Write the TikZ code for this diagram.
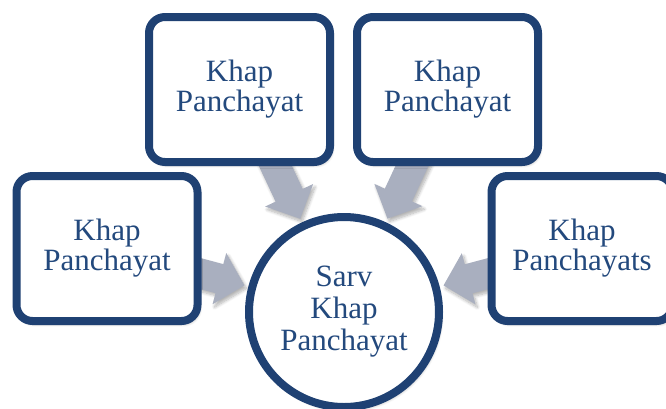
\documentclass[tikz,border=0pt]{standalone}
\usepackage{fontspec}
\setmainfont{Liberation Serif}
\usetikzlibrary{calc,shadows.blur}
\pgfdeclarelayer{background}
\pgfsetlayers{background,main}

\definecolor{frameblue}{HTML}{1F4173}
\definecolor{textblue}{HTML}{23497D}
\definecolor{arrowgray}{HTML}{A9AFBF}

\tikzset{
  softshadow/.style={blur shadow={shadow xshift=2pt, shadow yshift=-3pt,
      shadow blur radius=3pt, shadow blur steps=8, shadow opacity=30}},
  panel/.style={draw=frameblue, line width=8pt, fill=white, rounded corners=16pt,
      minimum width=181pt, minimum height=145pt, inner sep=0pt, align=center,
      text=textblue, font=\fontsize{31}{30}\selectfont, softshadow},
  hub/.style={circle, draw=frameblue, line width=8pt, fill=white,
      minimum size=190pt, inner sep=0pt, align=center,
      text=textblue, font=\fontsize{31}{32}\selectfont, softshadow},
  flow/.style={fill=arrowgray, softshadow}
}

% Block arrow from the centre of node #1 to the rim of node #2
\newcommand\blockarrow[2]{%
  \coordinate (tip) at ($(#2.center)!103pt!(#1.center)$);
  \coordinate (base) at ($(tip)!26pt!(#1.center)$);
  \fill[flow] ($(#1.center)!15pt!90:(tip)$)
    -- ($(base)!15pt!90:(tip)$)
    -- ($(base)!26.5pt!90:(tip)$)
    -- (tip)
    -- ($(base)!26.5pt!-90:(tip)$)
    -- ($(base)!15pt!-90:(tip)$)
    -- ($(#1.center)!15pt!-90:(tip)$) -- cycle;
}

\begin{document}
\begin{tikzpicture}[x=1pt, y=-1pt]
  \useasboundingbox (0,0) rectangle (666,408);

  \node[panel] (tl) at (239.5,89.5) {Khap\\Panchayat};
  \node[panel] (tr) at (447.5,89.5) {Khap\\Panchayat};
  \node[panel] (lf) at (107,248.5) {Khap\\Panchayat};
  \node[panel] (rt) at (582,248.5) {Khap\\Panchayats};
  \node[hub]   (hub) at (344,312) {Sarv\\Khap\\Panchayat};

  \begin{pgfonlayer}{background}
    \blockarrow{tl}{hub}
    \blockarrow{tr}{hub}
    \blockarrow{lf}{hub}
    \blockarrow{rt}{hub}
  \end{pgfonlayer}
\end{tikzpicture}
\end{document}
